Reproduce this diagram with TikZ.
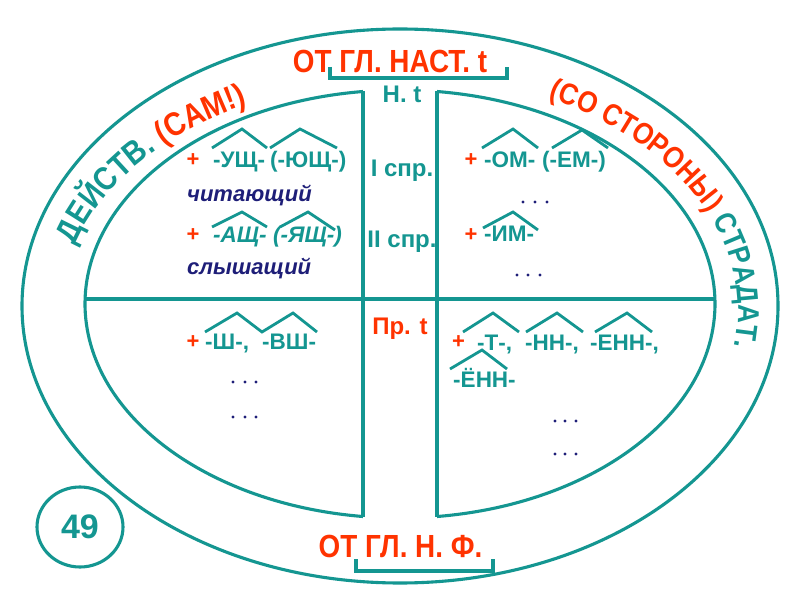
\documentclass[tikz,border=0pt]{standalone}
\usepackage{fontspec}
\setmainfont{Liberation Sans}
\newfontfamily\arcfont[FakeStretch=0.87]{Liberation Sans}
\usetikzlibrary{decorations.text}
\definecolor{tl}{RGB}{20,150,145}
\definecolor{rd}{RGB}{255,51,0}
\definecolor{nv}{RGB}{30,30,120}
\begin{document}
\begin{tikzpicture}[x=1pt,y=1pt,
  ln/.style={draw=tl, line width=3.1pt},
  hat/.style={draw=tl, line width=2.8pt},
  sfx/.style={font=\bfseries\fontsize{22.5}{26}\selectfont, text=tl, anchor=base west, inner sep=0pt},
  sfxi/.style={sfx, font=\bfseries\itshape\fontsize{22.5}{26}\selectfont},
  plus/.style={font=\bfseries\fontsize{22}{26}\selectfont, text=rd, inner sep=0pt},
  word/.style={font=\bfseries\itshape\fontsize{22}{26}\selectfont, text=nv, anchor=base west, inner sep=0pt},
  mid/.style={font=\bfseries\fontsize{24}{28}\selectfont, text=tl, anchor=base, inner sep=0pt},
  ttl/.style={font=\arcfont\bfseries\fontsize{32}{36}\selectfont, text=rd, anchor=base, inner sep=0pt},
  dt/.style={fill=nv}
]
\useasboundingbox (0,0) rectangle (800,600);
\fill[white] (0,0) rectangle (800,600);
% outer ellipse
\draw[ln] (400,294) ellipse [x radius=378pt, y radius=277pt];
% inner ellipse (two arcs with a gap for the column)
\draw[ln] (437,508.5) arc[start angle=83.25, end angle=-83.25, x radius=315pt, y radius=214pt];
\draw[ln] (363,508.5) arc[start angle=96.75, end angle=263.25, x radius=315pt, y radius=214pt];
\draw[ln] (363,508.5) -- (363,83.5);
\draw[ln] (437,508.5) -- (437,83.5);
\draw[ln] (85.09,301) -- (714.91,301);
% brackets
\draw[ln] (330,533) -- (330,522) -- (507,522) -- (507,533);
\draw[ln] (356,41) -- (356,29) -- (493,29) -- (493,41);
% titles
\node[ttl] (top) at (390,527) {ОТ ГЛ. НАСТ. t};
\node[ttl] (bot) at (400.5,43) {ОТ ГЛ. Н. Ф.};
% arc texts
\path[decorate, decoration={text along path, text align=left,
  text={|\arcfont\bfseries\fontsize{33}{36}\selectfont\color{tl}|ДЕЙСТВ. |+\color{rd}|(САМ!)}}]
  (75.1,354.85) arc[start angle=164, end angle=100, x radius=338pt, y radius=228pt];
\path[decorate, decoration={text along path, text align=left,
  text={|\arcfont\bfseries\fontsize{30}{34}\selectfont\color{rd}|(СО СТОРОНЫ) |+\color{tl}|СТРАДАТ.}}]
  (548.2,502.1) arc[start angle=64, end angle=-20, x radius=338pt, y radius=236pt];
% centre column
\node[mid] (nt) at (402,497) {Н. t};
\node[mid] (s1) at (402,423) {I спр.};
\node[mid] (s2) at (402,352) {II спр.};
\node[mid, text=rd] (pt) at (400,265) {Пр. t};
% upper left
\node[plus] (p1) at (193,440) {+};
\node[sfx] (a1) at (213,432) {-УЩ-};
\node[sfx] (a2) at (270,432) {(-ЮЩ-)};
\draw[hat] (212,452) -- (242,471) -- (267,452);
\draw[hat] (270,452) -- (300,471) -- (337,452);
\node[word] (w1) at (187,398) {читающий};
\node[plus] (p2) at (193,365) {+};
\node[sfxi] (a3) at (213,357) {-АЩ-};
\node[sfxi] (a4) at (273,357) {(-ЯЩ-)};
\draw[hat] (212,373) -- (242,388) -- (267,373);
\draw[hat] (280,373) -- (308,388) -- (335,370);
\node[word] (w2) at (187,325) {слышащий};
% upper right
\node[plus] (p3) at (471,440) {+};
\node[sfx] (b1) at (484,432) {-ОМ-};
\node[sfx] (b2) at (542,432) {(-ЕМ-)};
\draw[hat] (482,452) -- (513,471) -- (538,452);
\draw[hat] (552,452) -- (582,470) -- (608,452);
\foreach \x in {523,535,547} \fill[dt] (\x,398) circle[radius=1.6pt];
\node[plus] (p4) at (471,365) {+};
\node[sfx] (b3) at (484,358) {-ИМ-};
\draw[hat] (483,372) -- (513,388) -- (538,370);
\foreach \x in {517,528,540} \fill[dt] (\x,325) circle[radius=1.6pt];
% lower left
\node[plus] (p5) at (193,258) {+};
\node[sfx] (c1) at (205,250) {-Ш-,};
\node[sfx] (c2) at (262,250) {-ВШ-};
\draw[hat] (205,268) -- (237,287) -- (262,268) -- (293,287) -- (317,268);
\foreach \x in {233,245,256} {\fill[dt] (\x,218) circle[radius=1.6pt]; \fill[dt] (\x,183) circle[radius=1.6pt];}
% lower right
\node[plus] (p6) at (458.5,258) {+};
\node[sfx] (d1) at (477,249) {-Т-,};
\node[sfx] (d2) at (525,249) {-НН-,};
\node[sfx] (d3) at (590,249) {-ЕНН-,};
\draw[hat] (463,268) -- (493,287) -- (519,268);
\draw[hat] (526,268) -- (557,287) -- (583,268);
\draw[hat] (595,268) -- (627,287) -- (652,268);
\node[sfx] (d4) at (453,212) {-ЁНН-};
\draw[hat] (450,231) -- (482,250) -- (507,231);
\foreach \x in {555,565,576} {\fill[dt] (\x,179) circle[radius=1.6pt]; \fill[dt] (\x,146) circle[radius=1.6pt];}
% page number
\draw[ln, fill=white] (80,73) ellipse [x radius=43pt, y radius=40pt];
\node[font=\bfseries\fontsize{34}{38}\selectfont, text=tl] (num) at (80,73) {49};
\end{tikzpicture}
\end{document}
